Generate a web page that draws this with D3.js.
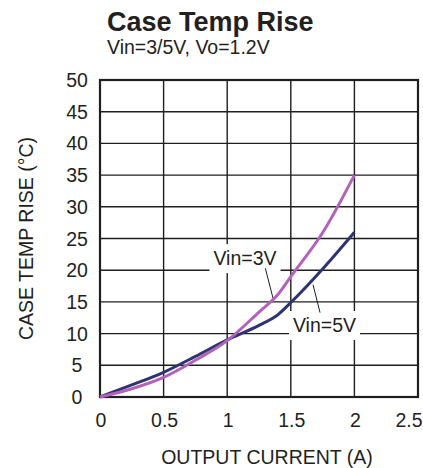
<!DOCTYPE html>
<html>
<head>
<meta charset="utf-8">
<script src="https://cdn.jsdelivr.net/npm/d3@7"></script>
<style>
  body { margin: 0; background: #fff; }
  svg text { font-family: "Liberation Sans", Arial, Helvetica, sans-serif; fill: #231f20; }
</style>
</head>
<body>
<svg id="chart" width="423" height="468"></svg>
<script>
// data
let xTicks = [0, 0.5, 1, 1.5, 2, 2.5];
let xTickLabels = ["0", "0.5", "1", "1.5", "2", "2.5"];
let yTicks = [0, 5, 10, 15, 20, 25, 30, 35, 40, 45, 50];
let current = [0, 0.25, 0.5, 0.75, 1, 1.25, 1.4, 1.5, 1.75, 2];
let vin3 = [0, 1.3, 3.1, 5.8, 8.9, 13.4, 16.2, 19.0, 25.9, 35];
let vin5 = [0, 1.9, 3.9, 6.4, 9.0, 11.3, 13.0, 14.9, 20.2, 26];

// callouts, in data units: label spot and leader line ends
let callouts = [
     { text: "Vin=3V", x: 1.14, y: 20.8, from: [1.30, 20.3], to: [1.36, 15.6] },
     { text: "Vin=5V", x: 1.765, y: 10.25, from: [1.675, 17.7], to: [1.73, 13.3] }
];

let svg = d3.select("#chart");
let plotL = 100, plotR = 418, plotT = 80, plotB = 397;

let x = d3.scaleLinear().domain([0, 2.5]).range([plotL, plotR]);
let y = d3.scaleLinear().domain([0, 50]).range([plotB, plotT]);

// titles
svg.append("text")
     .attr("x", 107).attr("y", 31)
     .style("font-size", "27px").style("font-weight", "bold")
     .text("Case Temp Rise");
svg.append("text")
     .attr("x", 107).attr("y", 54)
     .style("font-size", "19.5px")
     .text("Vin=3/5V, Vo=1.2V");

// grid
let grid = svg.append("g");
grid.selectAll(".hg")
     .data(yTicks.slice(1, -1))
     .enter().append("line")
     .attr("x1", plotL).attr("x2", plotR)
     .attr("y1", d => y(d)).attr("y2", d => y(d))
     .attr("stroke", "#1e1e1e").attr("stroke-width", 1.4);
grid.selectAll(".vg")
     .data(xTicks.slice(1, -1))
     .enter().append("line")
     .attr("x1", d => x(d)).attr("x2", d => x(d))
     .attr("y1", plotT).attr("y2", plotB)
     .attr("stroke", "#1e1e1e").attr("stroke-width", 1.4);

// callout backgrounds knock out the grid
let calloutG = svg.append("g");
callouts.forEach(c => {
     let t = calloutG.append("text")
          .attr("x", x(c.x)).attr("y", y(c.y))
          .attr("text-anchor", "middle")
          .style("font-size", "19.5px")
          .text(c.text);
     let bb = t.node().getBBox();
     calloutG.insert("rect", "text")
          .attr("x", bb.x - 4).attr("y", bb.y - 3)
          .attr("width", bb.width + 8).attr("height", bb.height + 7)
          .attr("fill", "#fff");
     calloutG.append("line")
          .attr("x1", x(c.from[0])).attr("y1", y(c.from[1]))
          .attr("x2", x(c.to[0])).attr("y2", y(c.to[1]))
          .attr("stroke", "#1e1e1e").attr("stroke-width", 1);
});

// frame
svg.append("rect")
     .attr("x", plotL).attr("y", plotT)
     .attr("width", plotR - plotL).attr("height", plotB - plotT)
     .attr("fill", "none").attr("stroke", "#1e1e1e").attr("stroke-width", 2.2);

// curves
let line = d3.line()
     .x((d, i) => x(current[i]))
     .y(d => y(d))
     .curve(d3.curveMonotoneX);

svg.append("path").datum(vin5)
     .attr("d", line)
     .attr("fill", "none").attr("stroke", "#2f3470").attr("stroke-width", 3);
svg.append("path").datum(vin3)
     .attr("d", line)
     .attr("fill", "none").attr("stroke", "#b262ba").attr("stroke-width", 3);

// tick labels
svg.selectAll(".yl")
     .data(yTicks)
     .enter().append("text")
     .attr("x", 77).attr("y", d => y(d) + 7)
     .attr("text-anchor", "middle")
     .style("font-size", "19.5px")
     .text(d => d);
svg.selectAll(".xl")
     .data(xTicks)
     .enter().append("text")
     .attr("x", d => Math.min(x(d) + 1, 409))
     .attr("y", 427)
     .attr("text-anchor", "middle")
     .style("font-size", "19.5px")
     .text((d, i) => xTickLabels[i]);

// axis titles
svg.append("text")
     .attr("x", 267).attr("y", 464)
     .attr("text-anchor", "middle")
     .style("font-size", "19.5px")
     .text("OUTPUT CURRENT (A)");
svg.append("text")
     .attr("transform", "translate(33," + ((plotT + plotB) / 2) + ") rotate(-90)")
     .attr("text-anchor", "middle")
     .style("font-size", "19.5px")
     .text("CASE TEMP RISE (°C)");
</script>
</body>
</html>
